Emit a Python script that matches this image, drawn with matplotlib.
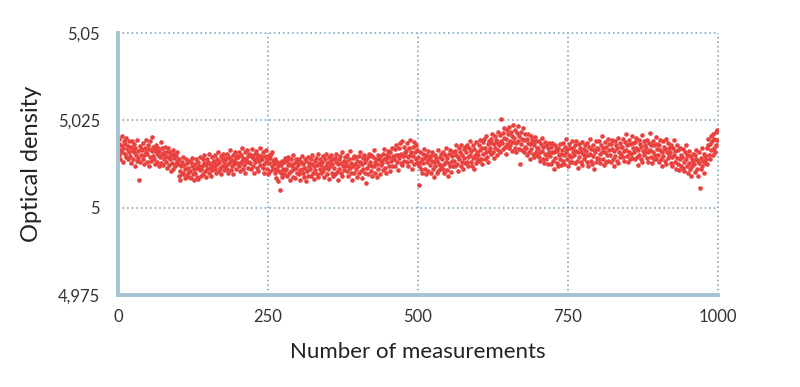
import matplotlib
matplotlib.use("Agg")
import matplotlib.pyplot as plt

# Optical density readings, stored as offsets from 5 in units of 1e-4
od_e4 = [
    185,150,198,165,140,178,205,160,172,130,190,155,182,145,200,168,138,176,158,192,
    148,175,128,166,190,140,158,182,120,170,152,195,135,163,142,78,176,130,168,150,
    165,138,185,150,125,172,160,195,132,155,178,120,168,145,190,135,162,201,148,175,
    140,168,125,158,180,132,150,172,118,162,145,188,128,155,170,122,160,138,175,148,
    132,158,115,145,170,122,138,160,105,150,128,165,112,142,155,118,148,125,160,135,
    125,92,138,105,80,118,132,95,145,100,122,85,112,140,90,128,98,115,135,88,
    105,130,85,118,142,95,110,78,125,100,138,88,115,130,82,120,108,145,92,112,
    118,140,95,128,150,105,122,88,138,112,130,100,155,115,125,92,145,108,132,118,
    135,110,150,122,98,140,128,160,105,132,115,148,95,138,120,155,108,130,142,118,
    140,112,155,125,100,145,130,165,108,138,118,152,95,135,125,160,110,142,128,148,
    145,118,160,128,105,150,135,170,112,142,122,158,100,140,130,165,115,148,132,155,
    128,152,110,145,168,120,138,100,155,130,162,115,142,150,105,135,172,122,148,138,
    140,115,158,125,100,148,132,165,110,138,95,150,128,142,105,155,120,160,135,112,
    125,98,140,110,85,132,118,75,128,105,52,100,122,88,135,112,95,130,108,142,
    110,135,90,122,145,98,125,80,138,105,118,150,88,128,112,85,140,115,100,132,
    122,95,140,108,80,130,112,148,98,125,88,138,115,75,135,105,145,92,120,128,
    112,138,92,125,150,100,118,82,135,108,142,95,122,155,88,128,110,140,98,122,
    130,105,148,115,88,138,120,155,95,128,110,145,82,135,118,150,100,125,140,92,
    115,142,95,130,155,102,125,78,138,110,148,98,128,160,90,120,135,108,145,118,
    132,105,150,118,90,140,115,162,100,128,80,142,120,148,98,125,110,145,88,135,
    120,148,98,132,158,105,125,85,142,112,150,100,130,70,138,115,145,95,122,155,
    132,105,152,120,92,145,118,165,100,130,140,88,125,150,110,138,96,148,122,135,
    128,155,108,140,168,115,142,98,152,130,162,118,145,105,158,135,172,120,148,138,
    140,168,120,152,180,130,150,108,170,142,185,128,155,192,122,148,175,135,160,150,
    162,130,185,145,118,170,150,195,135,160,112,175,148,188,125,158,140,180,128,165,
    145,118,64,132,160,110,140,98,155,128,168,112,142,95,152,130,162,105,138,148,
    122,148,100,135,160,110,130,88,152,118,142,98,135,165,105,125,145,112,155,120,
    140,112,160,125,98,150,130,172,108,142,92,155,128,118,165,102,148,135,120,158,
    135,162,118,150,178,125,145,105,170,138,158,120,180,132,152,112,168,142,128,175,
    158,130,180,145,120,170,150,192,132,162,118,178,142,110,168,150,188,128,160,140,
    150,180,135,165,195,140,170,125,188,155,198,138,172,160,205,145,182,130,192,162,
    172,198,155,185,212,160,182,142,205,170,195,152,188,218,165,180,208,158,192,255,
    185,215,168,200,228,175,198,155,222,182,210,170,232,192,178,218,162,205,238,188,
    200,172,222,185,160,215,192,235,168,205,125,182,218,165,198,228,160,195,175,210,
    170,198,150,185,212,160,182,140,205,168,195,155,188,145,178,202,158,190,172,150,
    172,145,192,160,135,182,162,200,140,175,128,188,155,138,178,150,170,125,185,158,
    148,175,125,160,185,135,158,112,178,142,168,128,162,118,172,150,138,182,122,155,
    165,135,185,150,125,175,158,198,138,168,118,182,152,130,170,145,192,132,160,172,
    150,178,128,162,190,135,158,115,182,145,172,130,160,188,122,155,168,138,180,148,
    162,132,185,150,120,175,155,198,135,168,125,180,148,165,112,158,192,130,170,142,
    168,138,190,155,128,180,160,205,140,172,122,188,158,132,175,150,198,135,165,182,
    152,182,132,168,195,140,162,118,190,148,178,135,170,200,128,160,185,145,175,155,
    175,145,198,162,135,188,166,212,148,180,130,195,160,140,182,155,205,142,170,185,
    158,188,138,172,200,145,165,122,195,152,182,140,175,208,132,162,190,150,180,160,
    172,142,195,158,132,185,165,215,145,178,128,192,160,140,178,152,202,138,168,182,
    152,180,130,165,195,138,160,118,190,148,175,135,168,198,125,158,185,142,172,150,
    158,128,180,145,120,170,150,195,132,162,112,178,142,125,165,108,140,172,118,150,
    145,115,168,130,105,158,138,180,118,150,98,162,128,110,148,92,140,120,155,130,
    125,152,102,138,165,112,135,92,160,128,55,110,142,170,118,135,100,155,128,148,
    140,170,125,178,198,150,182,138,205,165,192,152,210,172,198,160,218,180,222,195,
]
measurements = list(range(len(od_e4)))
optical_density = [5 + v / 1e4 for v in od_e4]

x_ticks = [0, 250, 500, 750, 1000]
x_labels = ["0", "250", "500", "750", "1000"]
y_ticks = [4.975, 5.0, 5.025, 5.05]
y_labels = ["4,975", "5", "5,025", "5,05"]

plt.rcParams['font.family'] = ['Lato', 'DejaVu Sans']

fig = plt.figure(figsize=(8, 3.87), dpi=100)
ax = fig.add_axes([0.1475, 0.2377, 0.75, 0.677])

ax.scatter(measurements, optical_density, s=11, color='#e8413e', marker='o',
           linewidths=0, zorder=3)

ax.set_xlim(0, 1000)
ax.set_ylim(4.975, 5.05)
ax.set_xticks(x_ticks)
ax.set_xticklabels(x_labels)
ax.set_yticks(y_ticks)
ax.set_yticklabels(y_labels)

grid_color = '#6f9bb8'
for xv in x_ticks[1:]:
    ax.axvline(xv, color=grid_color, linestyle=(0, (1, 2)), linewidth=1.1,
               zorder=1, clip_on=False)
for yv in y_ticks[1:]:
    ax.axhline(yv, color=grid_color, linestyle=(0, (1, 2)), linewidth=1.1,
               zorder=1, clip_on=False)

for s in ['top', 'right']:
    ax.spines[s].set_visible(False)
for s in ['left', 'bottom']:
    ax.spines[s].set_color('#a6c3d1')
    ax.spines[s].set_linewidth(2.8)
    ax.spines[s].set_zorder(4)

ax.tick_params(axis='both', length=0, labelsize=12, colors='#333333')
ax.tick_params(axis='y', pad=13)
ax.tick_params(axis='x', pad=10)

ax.set_xlabel("Number of measurements", fontsize=16, color='#222222', labelpad=12)
ax.set_ylabel("Optical density", fontsize=17, color='#222222', labelpad=11)

fig.savefig("out.png", dpi=100)
